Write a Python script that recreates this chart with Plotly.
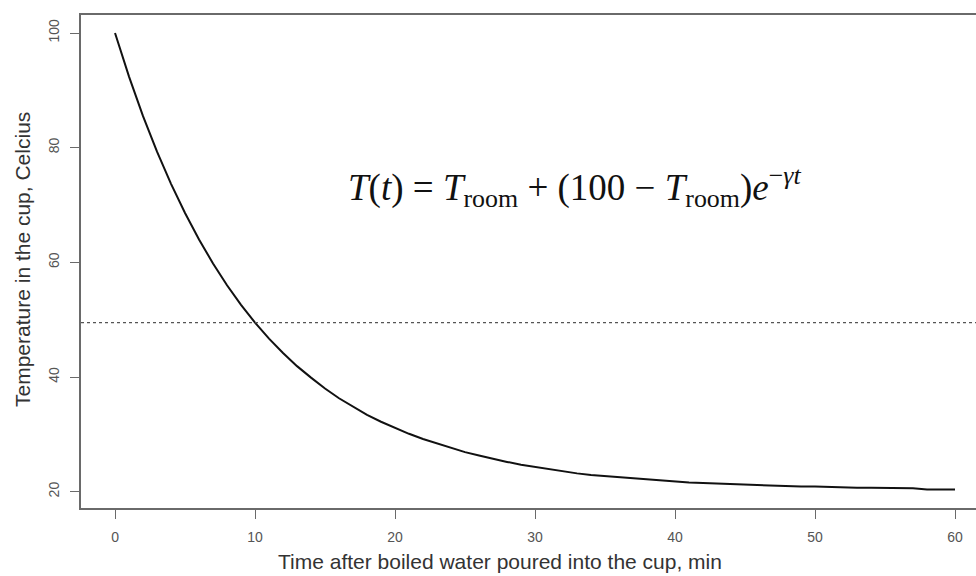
import plotly.graph_objects as go

# Data
minutes = list(range(0, 61))
temperature = [
    100.0, 92.4, 85.5, 79.3, 73.7, 68.6, 64.0, 59.8, 56.0, 52.6,
    49.5, 46.7, 44.2, 41.9, 39.9, 38.0, 36.3, 34.8, 33.4, 32.2,
    31.1, 30.1, 29.2, 28.4, 27.6, 26.9, 26.3, 25.7, 25.2, 24.7,
    24.3, 23.9, 23.5, 23.2, 22.9, 22.7, 22.5, 22.3, 22.1, 21.9,
    21.8, 21.6, 21.5, 21.4, 21.3, 21.2, 21.1, 21.0, 21.0, 20.9,
    20.9, 20.8, 20.8, 20.7, 20.7, 20.7, 20.6, 20.6, 20.4, 20.4,
    20.4,
]
threshold = 49.5
x_ticks = [0, 10, 20, 30, 40, 50, 60]
y_ticks = [20, 40, 60, 80, 100]

axis_col = "#6a6a6a"
text_col = "#555555"
title_col = "#333333"

fig = go.Figure()
fig.add_trace(go.Scatter(
    x=minutes, y=temperature, mode="lines",
    line=dict(color="#111111", width=2), showlegend=False, hoverinfo="skip",
))
fig.add_hline(y=threshold, line=dict(color="#555555", width=1.2, dash="dot"))

fig.add_annotation(
    xref="paper", yref="paper", x=0.551, y=0.651, xanchor="center", yanchor="middle",
    showarrow=False,
    text="<i>T</i>(<i>t</i>) = <i>T</i><sub>room</sub> + (100 \u2212 <i>T</i><sub>room</sub>)<i>e</i><sup>\u2212<i>\u03b3t</i></sup>",
    font=dict(family="Liberation Serif", size=37, color="#111111"),
)
# axis titles
fig.add_annotation(
    xref="paper", yref="paper", x=(500 - 81) / 895, y=-(561 - 508) / 493,
    xanchor="center", yanchor="middle", showarrow=False,
    text="Time after boiled water poured into the cup, min",
    font=dict(size=21, color=title_col),
)
fig.add_annotation(
    xref="paper", yref="paper", x=-(81 - 22) / 895, y=(508 - 260) / 493,
    xanchor="center", yanchor="middle", showarrow=False, textangle=-90,
    text="Temperature in the cup, Celcius",
    font=dict(size=21, color=title_col),
)

fig.update_layout(
    width=976, height=576,
    margin=dict(l=81, r=0, t=15, b=68),
    paper_bgcolor="white", plot_bgcolor="white",
    font=dict(family="Liberation Sans", color=text_col),
    xaxis=dict(
        range=[-2.43, 61.5], tickvals=x_ticks, ticks="outside", ticklen=9,
        tickcolor=axis_col, tickwidth=1.2, showgrid=False, zeroline=False,
        showline=True, linecolor=axis_col, linewidth=1.5, mirror=True,
        tickfont=dict(size=14, color=text_col), ticklabelstandoff=6,
    ),
    yaxis=dict(
        range=[17.16, 103.14], tickvals=y_ticks, ticks="outside", ticklen=9,
        tickcolor=axis_col, tickwidth=1.2, showgrid=False, zeroline=False,
        showline=True, linecolor=axis_col, linewidth=1.5, mirror=False,
        tickangle=-90, tickfont=dict(size=14, color=text_col), ticklabelstandoff=6,
    ),
)

fig.write_html("out.html")
